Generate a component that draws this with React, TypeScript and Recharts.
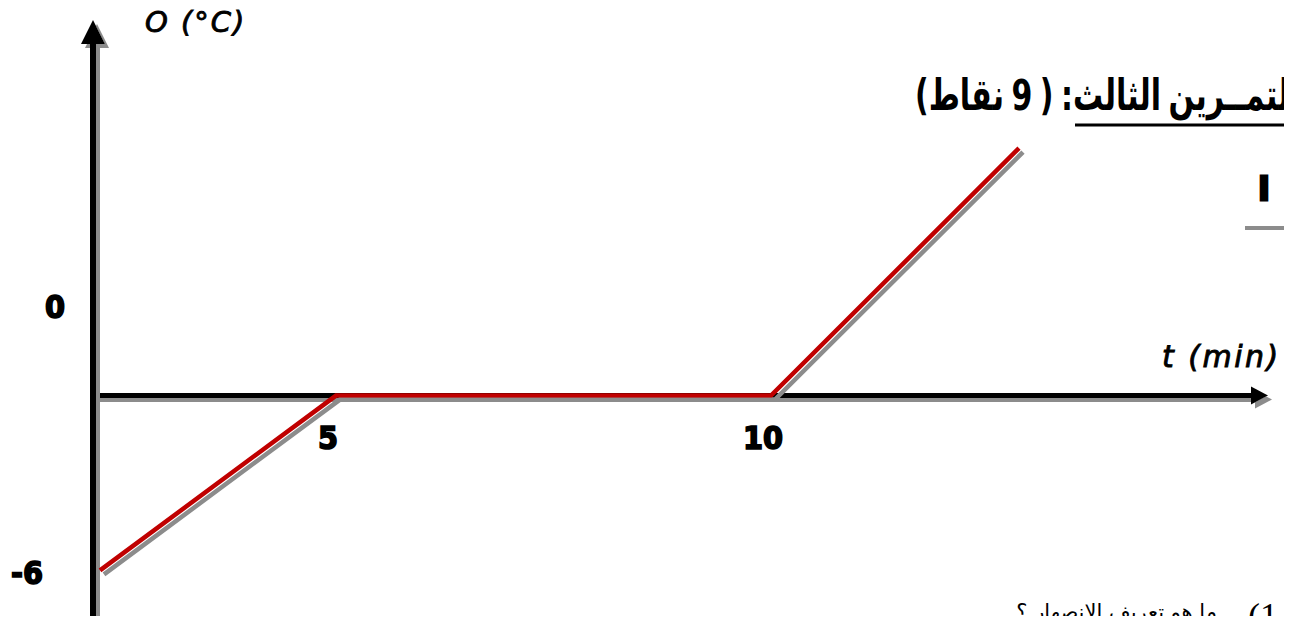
import React from 'react';
import { LineChart, Line, XAxis, YAxis, ReferenceLine } from 'recharts';

// ---- data ----
const times = [0, 5, 10, 15];
const temps = [-6, 0, 0, 8.5];
const xTicks = [5, 10];
const xTickLabels = ['5', '10'];
const yTicks = [-6, 0];
const yTickLabels = ['-6', '0'];
const xAxisTitle = 't (min)';
const yAxisTitle = 'O (°C)';
const heading = 'التمــرين الثالث: ( 9 نقاط)';
const questionNumber = '1)';
const questionText = 'ما هو تعريف الانصهار ؟';
const sideMark = 'ا';

// ---- layout ----
const W = 1292;
const H = 624;
const M = { top: 17, right: 24, bottom: 9, left: 92 };
const AXIS_W = 1;
const PLOT_H = H - M.top - M.bottom - AXIS_W;
const PLOT_LEFT = M.left + AXIS_W;
const Y_MIN = -7.5;
const Y_MAX = 13;
const ZERO_Y = M.top + (Y_MAX / (Y_MAX - Y_MIN)) * PLOT_H;

// the figure is not drawn to scale: piecewise time axis
const T_MIN = -0.15;
const T_MAX = 20;
const timeKnots = [T_MIN, 0, 5, 10, 15, T_MAX];
const knotFractions = [0, 7 / 1175, 243 / 1175, 678 / 1175, 926 / 1175, 1];

function makePiecewiseScale(knots: number[], fracs: number[]): any {
  let dom = [knots[0], knots[knots.length - 1]];
  let rng = [0, 1];
  const frac = (v: number) => {
    const n = knots.length - 1;
    if (v <= knots[0]) return fracs[0] + ((v - knots[0]) * (fracs[1] - fracs[0])) / (knots[1] - knots[0]);
    for (let i = 0; i < n; i++) {
      if (v <= knots[i + 1]) {
        const a = knots[i];
        const b = knots[i + 1];
        return fracs[i] + ((v - a) / (b - a)) * (fracs[i + 1] - fracs[i]);
      }
    }
    return fracs[n] + ((v - knots[n]) * (fracs[n] - fracs[n - 1])) / (knots[n] - knots[n - 1]);
  };
  const scale: any = (v: number) => rng[0] + (rng[rng.length - 1] - rng[0]) * frac(Number(v));
  scale.domain = (d?: number[]) => {
    if (d === undefined) return dom.slice();
    dom = d.slice();
    return scale;
  };
  scale.range = (r?: number[]) => {
    if (r === undefined) return rng.slice();
    rng = r.slice();
    return scale;
  };
  scale.copy = () => makePiecewiseScale(knots, fracs).domain(dom).range(rng);
  scale.ticks = () => knots.slice(1, -1);
  scale.tickFormat = () => (v: number) => String(v);
  scale.clamp = () => scale;
  scale.nice = () => scale;
  scale.invert = (p: number) => {
    const f = (p - rng[0]) / (rng[rng.length - 1] - rng[0]);
    for (let i = 0; i < fracs.length - 1; i++) {
      if (f <= fracs[i + 1]) {
        return knots[i] + ((f - fracs[i]) / (fracs[i + 1] - fracs[i])) * (knots[i + 1] - knots[i]);
      }
    }
    return knots[knots.length - 1];
  };
  return scale;
}

const timeScale = makePiecewiseScale(timeKnots, knotFractions);

const data = times.map((t, i) => ({ t, temp: temps[i] }));

const tickFont: React.CSSProperties = {
  fontFamily: "'Liberation Sans Narrow', 'DejaVu Sans Condensed', 'DejaVu Sans', sans-serif",
  fontWeight: 'bold',
  fontSize: 32,
  fill: '#000',
  stroke: '#000',
  strokeWidth: 1.6,
};
const X_TICK_DX = -8;
const X_TICK_BASELINE = 53;
const yTickDx = [-66, -38];
const yTickDy = [14, -78];

const XTick = (props: any) => {
  const i = xTicks.indexOf(props.payload.value);
  return (
    <text x={props.x + X_TICK_DX} y={ZERO_Y + X_TICK_BASELINE} textAnchor="middle" style={tickFont}>
      {xTickLabels[i]}
    </text>
  );
};

const YTick = (props: any) => {
  const i = yTicks.indexOf(props.payload.value);
  return (
    <text x={PLOT_LEFT + yTickDx[i]} y={props.y + yTickDy[i]} textAnchor="middle" style={tickFont}>
      {yTickLabels[i]}
    </text>
  );
};

const XArrow = (p: any) => {
  const x1 = Math.min(p.x1, p.x2);
  const x2 = Math.max(p.x1, p.x2);
  const y = p.y1;
  return (
    <g filter="url(#hardShadow)">
      <line x1={x1} y1={y} x2={x2 - 14} y2={y} stroke="#000" strokeWidth={5} />
      <polygon points={`${x2},${y} ${x2 - 17},${y - 9} ${x2 - 17},${y + 9}`} fill="#000" />
    </g>
  );
};

const YArrow = (p: any) => {
  const x = p.x1;
  const top = Math.min(p.y1, p.y2);
  const bottom = Math.max(p.y1, p.y2);
  const tip = top + 3;
  const base = tip + 24;
  return (
    <g filter="url(#hardShadow)">
      <line x1={x} y1={base - 2} x2={x} y2={bottom + 4} stroke="#000" strokeWidth={6} />
      <polygon points={`${x},${tip} ${x - 12},${base} ${x + 12},${base}`} fill="#000" />
    </g>
  );
};

const titleFont: React.CSSProperties = {
  fontFamily: "'DejaVu Sans', sans-serif",
  fontStyle: 'italic',
  fill: '#000',
  stroke: '#000',
  strokeWidth: 0.9,
};

export default function App() {
  return (
    <div style={{ position: 'relative', width: W, height: H, overflow: 'hidden', margin: -8, background: '#fff' }}>
      <style>{`.melt-line path { filter: url(#hardShadow); }`}</style>
      <svg width={0} height={0} style={{ position: 'absolute' }}>
        <defs>
          <filter id="hardShadow" filterUnits="userSpaceOnUse" x={0} y={0} width={W} height={H}>
            <feOffset in="SourceAlpha" dx={4} dy={4} result="off" />
            <feFlood floodColor="#8c8c8c" result="gray" />
            <feComposite in="gray" in2="off" operator="in" result="shadow" />
            <feMerge>
              <feMergeNode in="shadow" />
              <feMergeNode in="SourceGraphic" />
            </feMerge>
          </filter>
        </defs>
      </svg>
      <div style={{ position: 'absolute', left: 0, top: 0 }}>
        <LineChart width={W} height={H} data={data} margin={M}>
          <XAxis
            dataKey="t"
            type="number"
            scale={timeScale}
            domain={[T_MIN, T_MAX]}
            allowDataOverflow
            ticks={xTicks}
            tick={XTick}
            axisLine={false}
            tickLine={false}
            height={AXIS_W}
            interval={0}
          />
          <YAxis
            type="number"
            domain={[Y_MIN, Y_MAX]}
            allowDataOverflow
            ticks={yTicks}
            tick={YTick}
            axisLine={false}
            tickLine={false}
            width={AXIS_W}
            interval={0}
          />
          <ReferenceLine y={0} shape={XArrow} ifOverflow="visible" />
          <ReferenceLine x={T_MIN} shape={YArrow} ifOverflow="visible" />
          <Line
            className="melt-line"
            type="linear"
            dataKey="temp"
            stroke="#c00000"
            strokeWidth={4.5}
            dot={false}
            activeDot={false}
            isAnimationActive={false}
          />
        </LineChart>
      </div>
      <svg width={W} height={H} style={{ position: 'absolute', left: 0, top: 0, pointerEvents: 'none' }}>
        <text x={145} y={32} style={{ ...titleFont, fontSize: 29, letterSpacing: 2 }}>
          {yAxisTitle}
        </text>
        <text x={1162} y={367} style={{ ...titleFont, fontSize: 30, letterSpacing: 2.5 }}>
          {xAxisTitle}
        </text>
        <g transform="translate(915,110) scale(1,1.45)">
          <text
            x={0}
            y={0}
            direction="rtl"
            textAnchor="end"
            style={{ fontFamily: "'DejaVu Sans', sans-serif", fontWeight: 'bold', fontSize: 30, wordSpacing: -3 }}
          >
            {heading}
          </text>
        </g>
        <line x1={1075} y1={125} x2={W} y2={125} stroke="#000" strokeWidth={3} />
        <text
          x={1264}
          y={200}
          textAnchor="middle"
          stroke="#000"
          strokeWidth={3}
          style={{ fontFamily: "'DejaVu Sans', sans-serif", fontWeight: 'bold', fontSize: 32 }}
        >
          {sideMark}
        </text>
        <line x1={1245} y1={228} x2={W} y2={228} stroke="#8c8c8c" strokeWidth={4} />
        <text
          x={1278}
          y={628}
          direction="rtl"
          textAnchor="start"
          style={{ fontFamily: "'Liberation Serif', serif", fontSize: 36 }}
        >
          {questionNumber}
        </text>
        <text
          x={1217}
          y={619}
          direction="rtl"
          textAnchor="start"
          style={{ fontFamily: "'DejaVu Sans', sans-serif", fontSize: 21 }}
        >
          {questionText}
        </text>
      </svg>
    </div>
  );
}
